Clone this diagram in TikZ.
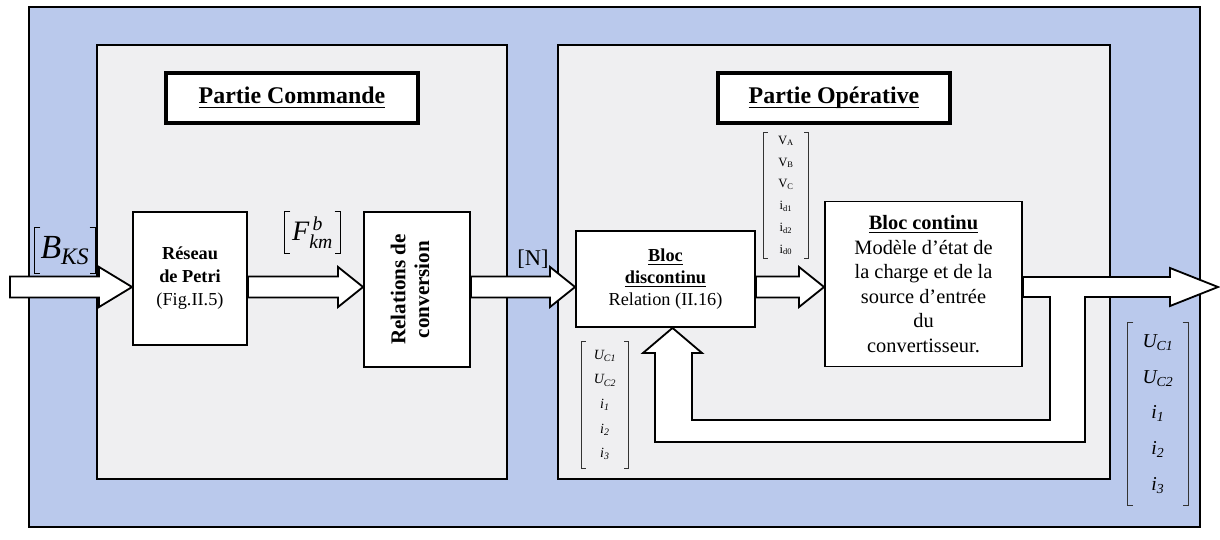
\documentclass[tikz,border=0pt]{standalone}
\usepackage{amsmath}
\usepackage{fontspec}
\setmainfont{Liberation Serif}
\usepackage{tikz}
\usetikzlibrary{positioning, calc}

\definecolor{fond}{RGB}{186,201,236}
\definecolor{grain}{RGB}{239,239,241}

\newcommand{\fatarrow}[3]{%
  \draw[fat] ($(#1)+(0,-10.5)$) -- ($(#2)+(-#3,-10.5)$) -- ($(#2)+(-#3,-20)$) -- (#2)
    -- ($(#2)+(-#3,20)$) -- ($(#2)+(-#3,10.5)$) -- ($(#1)+(0,10.5)$) -- cycle;}
\newcommand{\crochets}[3]{%
  \draw[#3] ([xshift=#2]#1.north west) -- (#1.north west) -- (#1.south west) -- ++(#2,0);
  \draw[#3] ([xshift=-#2]#1.north east) -- (#1.north east) -- (#1.south east) -- ++(-#2,0);}

\begin{document}
\begin{tikzpicture}[x=0.025cm, y=-0.025cm,
        panel/.style={draw=black, line width=1pt, fill=grain},
        titlebox/.style={rectangle, draw=black, line width=2.8pt, fill=white, minimum height=1.25cm, font=\fontsize{17}{20}\selectfont\bfseries},
        bloc/.style={rectangle, draw=black, line width=1.3pt, fill=white, align=center, inner sep=2pt},
        fat/.style={draw=black, line width=1.3pt, fill=white, line join=miter},
        vect/.style={inner sep=0pt, align=center},
        brk/.style={draw=black!80, line width=0.6pt},
        bigbrk/.style={draw=black, line width=1pt}
    ]
        \useasboundingbox (0,0) rectangle (1220,539);
        \draw[line width=0.9pt, fill=fond] (29,7) rectangle (1200,527);
        \draw[panel] (97,45) rectangle (507,479);
        \draw[panel] (558,45) rectangle (1110,479);

        \node[titlebox, minimum width=6.3cm] (titleC) at (292,98) {\underline{\smash{Partie Commande}}\strut};
        \node[titlebox, minimum width=5.8cm] (titleO) at (834,98) {\underline{\smash{Partie Opérative}}\strut};

        \node[bloc, minimum width=2.85cm, minimum height=3.325cm, font=\fontsize{13}{16.4}\selectfont] (petri) at (190,278.5) {\textbf{Réseau}\\\textbf{de Petri}\\(Fig.II.5)};
        \node[bloc, minimum width=2.65cm, minimum height=3.875cm] (conv) at (417,289.5) {};
        \node[rotate=90, align=center, font=\fontsize{15}{17}\selectfont\bfseries] (convtxt) at (410,289.5) {Relations de\\conversion};
        \node[bloc, minimum width=4.475cm, minimum height=2.4cm, font=\fontsize{13}{15.5}\selectfont] (disc) at (665.5,279) {\textbf{\underline{Bloc}}\\\textbf{\underline{discontinu}}\\Relation (II.16)};
        \node[bloc, minimum width=4.925cm, minimum height=4.125cm, font=\fontsize{14.5}{17.5}\selectfont] (cont) at (923.5,284) {\textbf{\underline{Bloc continu}}\\Modèle d’état de\\la charge et de la\\source d’entrée\\du\\convertisseur.};

        \coordinate (lvl) at (0,287);
        \coordinate (in) at (10,287);
        \coordinate (out) at (1218,287);

        \fatarrow{in}{petri.west |- lvl}{33}
        \fatarrow{petri.east |- lvl}{conv.west |- lvl}{25}
        \fatarrow{conv.east |- lvl}{disc.west |- lvl}{25}
        \fatarrow{disc.east |- lvl}{cont.west |- lvl}{25}
        \draw[fat] ($(cont.east |- lvl)+(0,-10)$) -- (1170,277) -- (1170,268) -- (out) -- (1170,306) -- (1170,297)
            -- (1085,297) -- (1085,442) -- (655,442) -- (655,353) -- (643,353) -- ($(disc.south)+(7,0)$)
            -- (702,353) -- (692,353) -- (692,420) -- (1050,420) -- (1050,297) -- ($(cont.east |- lvl)+(0,10)$) -- cycle;

        \node[vect, minimum width=1.5cm, minimum height=1.125cm, font=\fontsize{24}{26}\selectfont] (bks) at (65,250.5) {\textit{B}\textsubscript{\textit{KS}}};
        \crochets{bks}{4pt}{bigbrk}
        \node[vect, minimum width=1.375cm, minimum height=1.025cm, font=\fontsize{20}{22}\selectfont] (fkm) at (312.5,232.5) {$\text{\itshape F}^{\,\text{\itshape b}}_{\text{\itshape km}}$};
        \crochets{fkm}{4pt}{bigbrk}
        \node[vect, font=\fontsize{16}{18}\selectfont] (nn) at (533,259) {[N]};

        \node[vect, minimum width=1.1cm, minimum height=3.125cm, font=\fontsize{9}{15.5}\selectfont] (vabc) at (786,195.5) {V\textsubscript{A}\\V\textsubscript{B}\\V\textsubscript{C}\\i\textsubscript{d1}\\i\textsubscript{d2}\\i\textsubscript{d0}};
        \crochets{vabc}{3pt}{brk}
        \node[vect, minimum width=1.15cm, minimum height=3.15cm, font=\fontsize{10}{17.5}\selectfont] (uin) at (605,405) {\textit{U\textsubscript{C1}}\\\textit{U\textsubscript{C2}}\\\textit{i\textsubscript{1}}\\\textit{i\textsubscript{2}}\\\textit{i\textsubscript{3}}};
        \crochets{uin}{3pt}{brk}
        \node[vect, minimum width=1.5cm, minimum height=4.55cm, font=\fontsize{14}{25.5}\selectfont] (uout) at (1158,414) {\textit{U\textsubscript{C1}}\\\textit{U\textsubscript{C2}}\\\textit{i\textsubscript{1}}\\\textit{i\textsubscript{2}}\\\textit{i\textsubscript{3}}};
        \crochets{uout}{4pt}{brk}
    \end{tikzpicture}
\end{document}
